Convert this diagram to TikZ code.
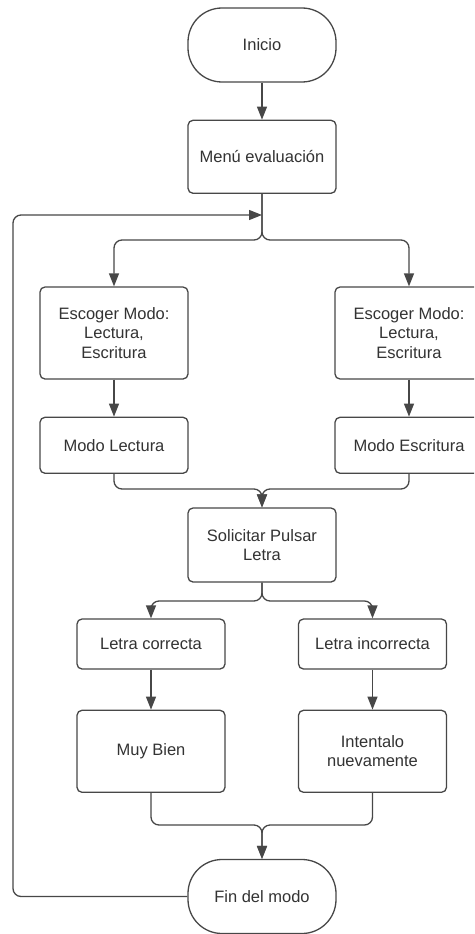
\documentclass[tikz,border=0pt]{standalone}
\usepackage{fontspec}
\setmainfont{Liberation Sans}
\usepackage{tikz}
\usetikzlibrary{arrows.meta,positioning}
\definecolor{linegray}{HTML}{474747}
\definecolor{textgray}{HTML}{333333}
\tikzset{
  every node/.append style={font=\fontsize{16.5}{19.5}\selectfont, text=textgray},
}

\begin{document}
\begin{tikzpicture}[
  x=1pt, y=-1pt,
  box/.style={rectangle, rounded corners=5pt, draw=linegray, line width=1.3pt,
              fill=white, minimum width=148pt, align=center, inner sep=2pt},
  term/.style={box, rounded corners=34pt, minimum height=74pt},
  arrow/.style={-{Triangle[length=13pt,width=10pt]}, draw=linegray,
                line width=1.3pt, rounded corners=8pt}
]
\clip (0,0) rectangle (474,934);

% Inicio y menu
\node[term] (inicio) at (262,45) {Inicio};
\node[box, minimum height=73pt, below=37pt of inicio] (menu) {Menú evaluación};

% Dos modos
\node[box, minimum height=92pt] (escL) at (114,333) {Escoger Modo:\\Lectura,\\Escritura};
\node[box, minimum height=92pt] (escR) at (409,333) {Escoger Modo:\\Lectura,\\Escritura};
\node[box, minimum height=56pt, below=37pt of escL] (modoL) {Modo Lectura};
\node[box, minimum height=56pt, below=37pt of escR] (modoR) {Modo Escritura};

% Letra
\node[box, minimum height=74pt] (solicitar) at (262,545) {Solicitar Pulsar\\Letra};
\node[box, minimum height=50pt] (correcta) at (151,644) {Letra correcta};
\node[box, minimum height=50pt] (incorrecta) at (372.5,644) {Letra incorrecta};
\node[box, minimum height=82pt, below=40pt of correcta] (muybien) {Muy Bien};
\node[box, minimum height=82pt, below=40pt of incorrecta] (intentalo) {Intentalo\\nuevamente};
\node[term] (fin) at (262,896.5) {Fin del modo};

% Junctions
\coordinate (split1) at (262,240);
\coordinate (merge1) at (262,489);
\coordinate (split2) at (262,601);
\coordinate (merge2) at (262,825);
\coordinate (loopx) at (13,215);
\coordinate (loopin) at (262,215);

% Flow arrows
\draw[arrow] (inicio.south) -- (menu.north);
\draw[arrow] (menu.south) -- (split1) -- (escL.north |- split1) -- (escL.north);
\draw[arrow] (menu.south) -- (split1) -- (escR.north |- split1) -- (escR.north);
\draw[arrow] (escL.south) -- (modoL.north);
\draw[arrow] (escR.south) -- (modoR.north);
\draw[arrow] (modoL.south) -- (modoL.south |- merge1) -- (merge1) -- (solicitar.north);
\draw[arrow] (modoR.south) -- (modoR.south |- merge1) -- (merge1) -- (solicitar.north);
\draw[arrow] (solicitar.south) -- (split2) -- (correcta.north |- split2) -- (correcta.north);
\draw[arrow] (solicitar.south) -- (split2) -- (incorrecta.north |- split2) -- (incorrecta.north);
\draw[arrow] (correcta.south) -- (muybien.north);
\draw[arrow] (incorrecta.south) -- (intentalo.north);
\draw[arrow] (muybien.south) -- (muybien.south |- merge2) -- (merge2) -- (fin.north);
\draw[arrow] (intentalo.south) -- (intentalo.south |- merge2) -- (merge2) -- (fin.north);

% Vuelta al menu
\draw[arrow] (fin.west) -| (loopx) -- (loopin);

\end{tikzpicture}
\end{document}
